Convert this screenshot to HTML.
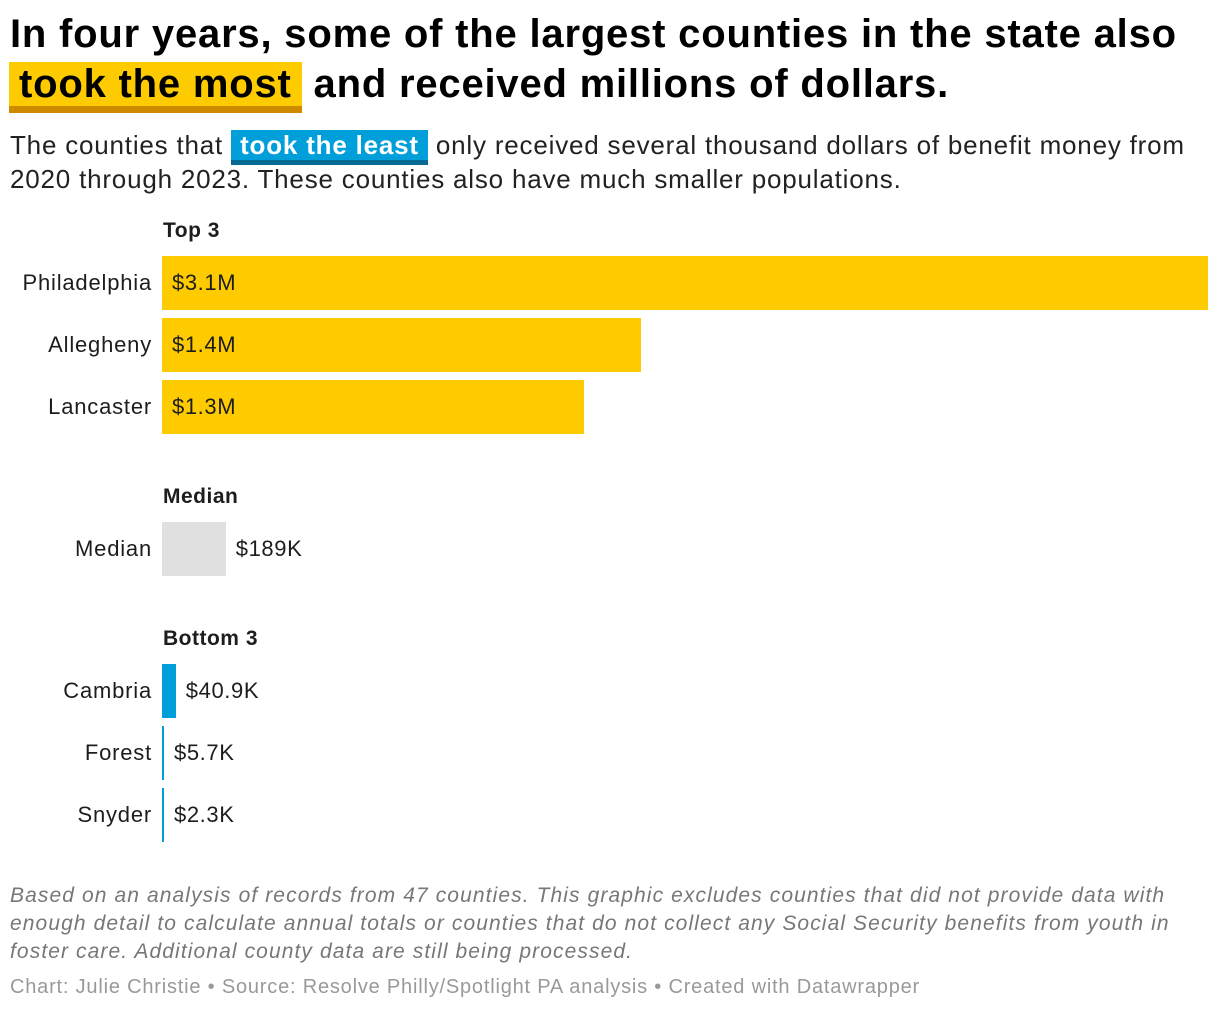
<!DOCTYPE html>
<html><head><meta charset="utf-8">
<style>
body{margin:0;width:1220px;height:1012px;background:#fff;font-family:"Liberation Sans",sans-serif;color:#1d1d1d;position:relative;overflow:hidden}
.abs{position:absolute;white-space:nowrap}
#title{left:10px;top:9px;font-size:40px;font-weight:bold;line-height:50px;color:#000;letter-spacing:0.8px}
.hl{background:#fecb00;border-bottom:7px solid #cf8b00;padding:0 10px;margin-left:-1px}
#sub{left:10px;top:128px;font-size:26px;line-height:34px;color:#222;letter-spacing:0.8px}
.hlb{background:#009fda;color:#fff;font-weight:bold;border-bottom:5px solid #056b93;padding:0 9px}
.grp{font-size:21px;font-weight:bold;left:163px;letter-spacing:0.5px}
.lab{font-size:22px;right:1068px;text-align:right;letter-spacing:0.8px}
.val{font-size:22px;letter-spacing:0.6px}
#notes{left:10px;top:882px;font-size:21px;font-style:italic;color:#777;line-height:28px;white-space:normal;width:1195px;letter-spacing:1.1px}
#foot{left:10px;top:976px;font-size:20px;color:#999;letter-spacing:0.8px}
</style></head><body>
<div id="title" class="abs">In four years, some of the largest counties in the state also<br><span class="hl">took the most</span> and received millions of dollars.</div>
<div id="sub" class="abs">The counties that <span class="hlb">took the least</span> only received several thousand dollars of benefit money from<br>2020 through 2023. These counties also have much smaller populations.</div>
<div id="chart"></div>
<div id="notes" class="abs">Based on an analysis of records from 47 counties. This graphic excludes counties that did not provide data with enough detail to calculate annual totals or counties that do not collect any Social Security benefits from youth in foster care. Additional county data are still being processed.</div>
<div id="foot" class="abs">Chart: Julie Christie • Source: Resolve Philly/Spotlight PA analysis • Created with Datawrapper</div>
<script>
const groups=["Top 3","Median","Bottom 3"];
const categories=["Philadelphia","Allegheny","Lancaster","Median","Cambria","Forest","Snyder"];
const values=[3100000,1420000,1250000,189000,40900,5700,2300];
const valueLabels=["$3.1M","$1.4M","$1.3M","$189K","$40.9K","$5.7K","$2.3K"];
const groupOf=[0,0,0,1,2,2,2];
const X0=162,W=1046,maxV=Math.max(...values);
const x=v=>Math.max(2,v/maxV*W);
const chart=document.getElementById('chart');
const colors=["#fecb00","#e0e0e0","#009fda"];
const rowYs=[];const groupStart=[];
let cy=256;
categories.forEach((c,i)=>{
  if(i>0){cy+= (groupOf[i]!==groupOf[i-1])?142:62;}
  if(groupStart[groupOf[i]]===undefined)groupStart[groupOf[i]]=cy;
  rowYs.push(cy);
});
groups.forEach((g,gi)=>{
  const d=document.createElement('div');d.className='abs grp';d.textContent=g;
  d.style.top=(groupStart[gi]-37)+'px';
  
  
  chart.appendChild(d);
});
categories.forEach((c,i)=>{
  const y=rowYs[i],w=x(values[i]);
  const l=document.createElement('div');l.className='abs lab';l.textContent=c;l.style.top=(y+14)+'px';
  
  
  chart.appendChild(l);
  const b=document.createElement('div');b.className='abs';
  b.style.cssText=`left:${X0}px;top:${y}px;width:${w}px;height:54px;background:${colors[groupOf[i]]}`;
  
  
  chart.appendChild(b);
  const v=document.createElement('div');v.className='abs val';v.textContent=valueLabels[i];
  const inside=w>150;
  v.style.top=(y+14)+'px';v.style.left=(inside?X0+10:X0+w+10)+'px';
  
  
  chart.appendChild(v);
});
</script>
</body></html>
